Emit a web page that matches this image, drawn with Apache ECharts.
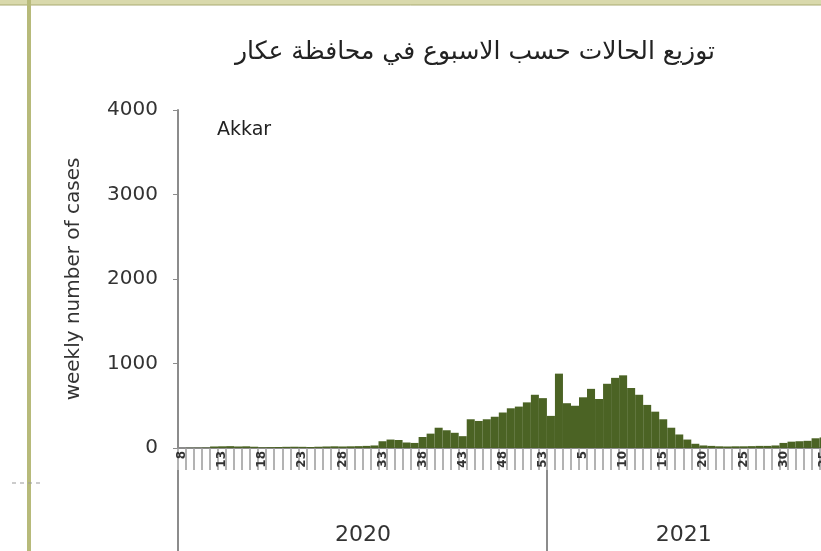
<!DOCTYPE html>
<html>
<head>
<meta charset="utf-8">
<script src="https://cdn.jsdelivr.net/npm/echarts@6/dist/echarts.min.js"></script>
<style>
html,body{margin:0;padding:0;background:#fff;overflow:hidden;width:821px;height:551px;}
#chart{width:850px;height:551px;}
</style>
</head>
<body>
<div id="chart"></div>
<script>
// Week labels (2020: weeks 8-53, 2021: weeks 1-35)
var weeks2020 = ["8","9","10","11","12","13","14","15","16","17","18","19","20","21","22","23","24","25","26","27","28","29","30","31","32","33","34","35","36","37","38","39","40","41","42","43","44","45","46","47","48","49","50","51","52","53"];
var weeks2021 = ["1","2","3","4","5","6","7","8","9","10","11","12","13","14","15","16","17","18","19","20","21","22","23","24","25","26","27","28","29","30","31","32","33","34","35"];
// Weekly cases, Akkar
var cases2020 = [0,2,3,5,18,20,22,18,20,15,8,10,12,14,15,14,12,15,18,20,18,20,22,25,30,80,100,95,65,60,130,170,240,210,180,140,340,320,340,370,420,470,490,540,630,590];
var cases2021 = [380,880,530,500,600,700,580,760,830,860,710,630,510,430,340,240,160,100,50,30,25,20,18,20,20,22,25,25,30,60,75,80,85,115,125];
var yearLabels = ["2020","2021"];
var yTicks = [0,1000,2000,3000,4000];

var categories = weeks2020.concat(weeks2021);
var values = cases2020.concat(cases2021);
var year2021Start = weeks2020.length;
var year2020LabelIdx = 22;
var year2021LabelIdx = 62;

var chart = echarts.init(document.getElementById('chart'));
var font = "'DejaVu Sans', sans-serif";
chart.setOption({
  animation: false,
  backgroundColor: '#ffffff',
  title: [
    {
      text: 'توزيع الحالات حسب الاسبوع في محافظة عكار',
      left: 470, top: 35, textAlign: 'center',
      textStyle: {fontFamily: "'DejaVu Sans', sans-serif", fontSize: 25, fontWeight: 'normal', color: '#222'}
    },
    {
      text: 'Akkar', left: 212, top: 116,
      textStyle: {fontFamily: font, fontSize: 19, fontWeight: 'normal', color: '#222'}
    }
  ],
  graphic: [
    {type: 'rect', shape: {x: 0, y: 0, width: 821, height: 5}, style: {fill: '#d9d9ac'}},
    {type: 'line', shape: {x1: 0, y1: 5, x2: 821, y2: 5}, style: {stroke: '#a9aa70', lineWidth: 1}},
    {type: 'rect', shape: {x: 27, y: 0, width: 4, height: 551}, style: {fill: '#b7ba7a'}},
    {type: 'line', shape: {x1: 12, y1: 483, x2: 40, y2: 483}, style: {stroke: '#999', lineWidth: 1, lineDash: [4, 4]}}
  ],
  grid: {left: 178, top: 110, height: 338, width: 8.02 * 81, containLabel: false},
  xAxis: [
    {
      type: 'category', data: categories, position: 'bottom',
      axisLine: {show: true, lineStyle: {color: '#8c8c8c', width: 2}},
      axisTick: {show: true, interval: 0, length: 22, lineStyle: {color: '#9a9a9a', width: 1.5}},
      axisLabel: {interval: 4, rotate: 90, margin: 3, fontSize: 12, fontFamily: font, fontWeight: 'bold', color: '#333'}
    },
    {
      type: 'category', data: categories, position: 'bottom', offset: 22,
      axisLine: {show: false},
      axisTick: {show: true, length: 82, lineStyle: {color: '#8c8c8c', width: 2},
        interval: function (i) { return i === 0 || i === year2021Start; }},
      axisLabel: {interval: 0, margin: 54, fontSize: 22, fontFamily: font, color: '#333', hideOverlap: false,
        padding: [0, 0, 0, 9],
        formatter: function (v, i) { return i === year2020LabelIdx ? yearLabels[0] : (i === year2021LabelIdx ? yearLabels[1] : ''); }}
    }
  ],
  yAxis: {
    type: 'value', min: yTicks[0], max: yTicks[yTicks.length - 1], interval: 1000,
    name: 'weekly number of cases', nameLocation: 'middle', nameGap: 94,
    nameTextStyle: {fontFamily: font, fontSize: 20, color: '#333'},
    axisLine: {show: true, lineStyle: {color: '#8c8c8c', width: 2}},
    axisTick: {show: true, length: 5, lineStyle: {color: '#8c8c8c'}},
    axisLabel: {margin: 20, fontSize: 20, fontFamily: font, color: '#333', formatter: function (v) { return String(v); }},
    splitLine: {show: false}
  },
  series: [{
    type: 'bar', data: values, barCategoryGap: 0,
    itemStyle: {color: '#4b6324'}
  }]
});
</script>
</body>
</html>
